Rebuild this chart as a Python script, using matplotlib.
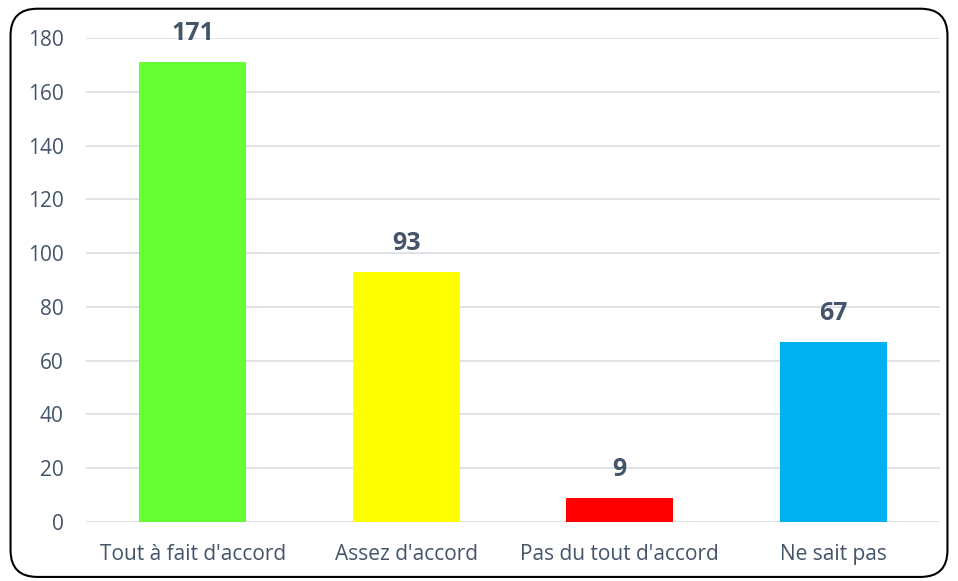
import matplotlib.pyplot as plt
from matplotlib.patches import FancyBboxPatch

# data
categories = ["Tout à fait d'accord", "Assez d'accord", "Pas du tout d'accord", "Ne sait pas"]
values = [171, 93, 9, 67]
bar_colors = ["#66FF33", "#FFFF00", "#FF0000", "#00B0F0"]
yticks = [0, 20, 40, 60, 80, 100, 120, 140, 160, 180]

text_color = "#44546A"
plt.rcParams['font.family'] = ['Open Sans', 'DejaVu Sans']

fig = plt.figure(figsize=(9.58, 5.81), dpi=100)
ax = fig.add_axes([0.0898, 0.1015, 0.8915, 0.8331])

# rounded frame round the whole chart
frame = FancyBboxPatch((0.011, 0.007), 0.978, 0.978,
                       boxstyle="round,pad=0,rounding_size=0.028",
                       transform=fig.transFigure, fill=False,
                       edgecolor="black", linewidth=1.5,
                       mutation_aspect=958 / 581)
fig.patches.append(frame)

x = range(len(categories))
ax.bar(x, values, width=0.5, color=bar_colors, zorder=2)

for xi, v in zip(x, values):
    ax.text(xi, v + 6, str(v), ha="center", va="bottom",
            fontsize=18, fontweight="bold", color=text_color)

ax.set_xlim(-0.5, 3.5)
ax.set_ylim(0, 180)
ax.set_yticks(yticks)
ax.set_xticks(list(x))
ax.set_xticklabels(categories)
ax.grid(axis="y", color="#D9DDE3", linewidth=1.2, zorder=0)
ax.tick_params(axis="both", length=0, labelsize=15, labelcolor=text_color)
ax.tick_params(axis="y", pad=16)
ax.tick_params(axis="x", pad=16)
for s in ax.spines.values():
    s.set_visible(False)
ax.set_axisbelow(True)

fig.savefig("out.png", dpi=100)
